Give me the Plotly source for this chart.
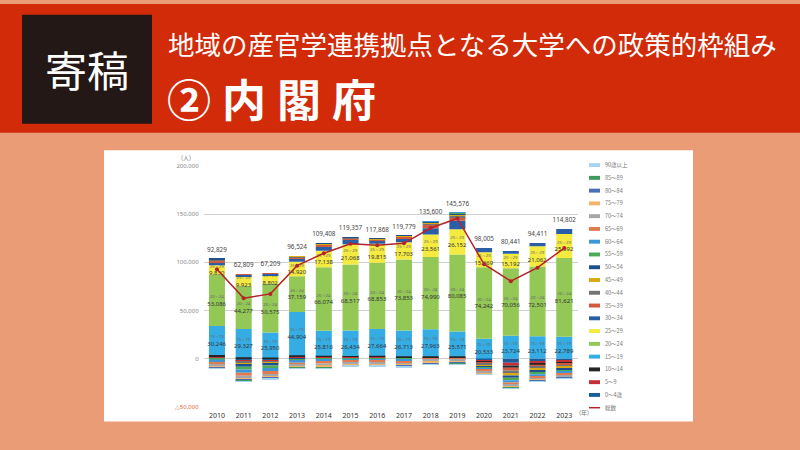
import plotly.graph_objects as go

W, H = 800, 450

years = ["2010", "2011", "2012", "2013", "2014", "2015", "2016",
         "2017", "2018", "2019", "2020", "2021", "2022", "2023"]

# 総数 (net total)
totals = [92829, 62809, 67209, 96524, 109408, 119357, 117868,
          119779, 135600, 145576, 98005, 80441, 94411, 114802]

# age-group values (persons), 2010..2023
age_0_4 = [1200, -2400, -2000, 1200, 1000, 900, 1000, 800, 800, 800, -1800, -4200, -2800, -2200]
age_5_9 = [1000, -1200, -1000, 900, 800, 700, 800, 700, 700, 700, -1300, -3000, -2000, -1600]
age_10_14 = [1500, 1500, 1200, 1400, 1200, 1100, 1200, 1000, 1000, 1000, -900, -2200, -1500, -1200]
age_15_19 = [30246, 29327, 25950, 44904, 25816, 26434, 27664, 26713, 27963, 25571, 20533, 23724, 23112, 22789]
age_20_24 = [53086, 44277, 50575, 37159, 66074, 68517, 68853, 73853, 74990, 80085, 74242, 70056, 72501, 81621]
age_25_29 = [9830, 9923, 8802, 14920, 17138, 21068, 19815, 17703, 23561, 26152, 15669, 15192, 21062, 25092]
age_30_34 = [3200, 1800, 1400, 3000, 4500, 4500, 3000, 4000, 6500, 9000, 4400, 2700, 3400, 5100]
age_35_39 = [1500, 900, 600, 1500, 1500, 1500, 1100, 1500, 3200, 3500, -1500, -3000, -2200, -1800]
age_40_44 = [900, -1500, -1200, 800, 800, 800, 600, 800, 1800, 2000, -1400, -2500, -1900, -1700]
age_45_49 = [700, -1500, -1300, 700, 500, 400, 300, 300, 1000, 1200, -1000, -2600, -1900, -1700]
age_50_54 = [500, -2000, -1800, -700, 300, 300, 100, 200, 700, 800, -1100, -2500, -2000, -1800]
age_55_59 = [-1000, -2800, -2600, -1500, -1400, -1000, -1000, -1100, 400, 400, -1300, -2500, -2000, -1900]
age_60_64 = [-2500, -3200, -3000, -2000, -1800, -1500, -1500, -1700, 200, 200, -1500, -2300, -2100, -2000]
age_65_69 = [-2600, -3200, -3000, -2200, -2000, -1800, -1800, -2000, -1500, -1300, -1800, -2100, -1900, -1800]
age_70_74 = [-2000, -2600, -2500, -1800, -2200, -1500, -1500, -1700, -1800, -1700, -1500, -1800, -1600, -1500]
age_75_79 = [-1400, -1800, -1700, -1000, -1500, -1000, -1000, -1200, -1500, -1400, -1000, -1200, -1100, -1000]
age_80_84 = [-800, -1000, -800, -500, -800, -600, -600, -700, -900, -900, -600, -700, -600, -600]
age_85_89 = [-400, -500, -300, -200, -400, -300, -300, -400, -500, -500, -300, -400, -300, -300]
age_90_up = [-100, -200, -100, -100, -100, -100, -100, -100, -200, -200, -100, -100, -100, -100]

age_labels = ["0～4歳", "5～9", "10～14", "15～19", "20～24", "25～29", "30～34",
              "35～39", "40～44", "45～49", "50～54", "55～59", "60～64", "65～69",
              "70～74", "75～79", "80～84", "85～89", "90歳以上"]
age_series = [age_0_4, age_5_9, age_10_14, age_15_19, age_20_24, age_25_29, age_30_34,
              age_35_39, age_40_44, age_45_49, age_50_54, age_55_59, age_60_64, age_65_69,
              age_70_74, age_75_79, age_80_84, age_85_89, age_90_up]
age_colors = ["#1B5C9B", "#C53038", "#262626", "#35ADE4", "#93C756", "#F4EA40", "#2A5FA8",
              "#D25A3C", "#737373", "#D6AA10", "#1F4F8F", "#4DAA57", "#3C96D8", "#E27A50",
              "#A6A6A6", "#F2B46A", "#4A6FB5", "#3E9B5C", "#A8D4F0"]
labelled = {"15～19", "20～24", "25～29"}
total_label = "総数"
line_color = "#B5232B"

y_tickvals = [-50000, 0, 50000, 100000, 150000, 200000]
y_ticktext = ["<span style='color:#E2673A'>△50,000</span>", "0", "50,000",
              "100,000", "150,000", "200,000"]

JP = "Noto Sans CJK JP"
NUM = "Noto Sans, sans-serif"


def px(x):
    return x / W


def py(y):
    return 1 - y / H


fig = go.Figure()

for name, vals, col in zip(age_labels, age_series, age_colors):
    kw = {}
    if name in labelled:
        kw = dict(
            text=[f"<span style='font-size:4.3px;color:#666'>{name}</span><br>{v:,}" for v in vals],
            textposition="inside", insidetextanchor="middle", textangle=0,
            constraintext="none", textfont=dict(size=6, color="#333", family=NUM),
        )
    fig.add_trace(go.Bar(x=years, y=vals, name=name, marker=dict(color=col, line=dict(width=0)),
                         **kw))

pos_sums = [sum(max(s[i], 0) for s in age_series) for i in range(len(years))]
fig.add_trace(go.Scatter(x=years, y=pos_sums, mode="markers+text", text=[f"{t:,}" for t in totals],
                         textposition="top center", cliponaxis=False,
                         marker=dict(size=7, opacity=0),
                         textfont=dict(size=6.3, color="#444", family=NUM)))
fig.add_trace(go.Scatter(x=years, y=totals, mode="lines+markers", name=total_label,
                         line=dict(color=line_color, width=1.5),
                         marker=dict(color=line_color, size=4)))

shapes = []
# red header band
shapes.append(dict(type="rect", xref="paper", yref="paper", x0=0, x1=1, y0=py(131), y1=1,
                   fillcolor="#D12B09", line=dict(width=0), layer="below"))
# black box
shapes.append(dict(type="rect", xref="paper", yref="paper", x0=px(22), x1=px(152),
                   y0=py(122), y1=py(11), fillcolor="#231815", line=dict(width=0), layer="below"))
# white chart panel
shapes.append(dict(type="rect", xref="paper", yref="paper", x0=px(104), x1=px(693),
                   y0=py(425), y1=py(149), fillcolor="#FFFFFF", line=dict(width=0), layer="below"))


def ann(x, y, text, size, color, family, xanchor="center", yanchor="middle"):
    return dict(x=px(x), y=py(y), xref="paper", yref="paper", text=text, showarrow=False,
                xanchor=xanchor, yanchor=yanchor, font=dict(size=size, color=color, family=family))


annotations = [
    ann(87, 66, "寄稿", 42, "white", JP),
    ann(166, 40, "地域の産官学連携拠点となる大学への政策的枠組み", 26.5, "white", JP, xanchor="left"),
    ann(165, 96, "<b>②\u2005内\u2005閣\u2005府</b>", 44, "white", JP, xanchor="left"),
    ann(186, 156, "(人)", 6, "#777", JP),
    ann(577, 416, "(年)", 6, "#777", JP, xanchor="left"),
]

# custom legend (top: 90歳以上 ... bottom: 総数)
leg_names = list(reversed(age_labels)) + [total_label]
leg_colors = list(reversed(age_colors)) + [line_color]
for i, (nm, col) in enumerate(zip(leg_names, leg_colors)):
    yc = 164 + 13 * i
    if nm == total_label:
        shapes.append(dict(type="line", xref="paper", yref="paper", x0=px(589), x1=px(600),
                           y0=py(yc), y1=py(yc), line=dict(color=col, width=1.5)))
    else:
        shapes.append(dict(type="rect", xref="paper", yref="paper", x0=px(589), x1=px(600),
                           y0=py(yc + 2), y1=py(yc - 2), fillcolor=col, line=dict(width=0)))
    annotations.append(ann(603, yc, nm, 5.5, "#777", JP, xanchor="left"))

fig.update_layout(
    width=W, height=H, margin=dict(l=0, r=0, t=0, b=0),
    paper_bgcolor="#E99C76", plot_bgcolor="white",
    barmode="relative", bargap=0.4, showlegend=False,
    shapes=shapes, annotations=annotations,
    xaxis=dict(domain=[203.6 / W, 577.6 / W], type="category", categoryorder="array",
               categoryarray=years, range=[-0.5, 13.5], showgrid=False, showline=False,
               ticks="", tickfont=dict(size=7, color="#333", family=NUM),
               ticklabelstandoff=3, fixedrange=True),
    yaxis=dict(domain=[py(410), py(165)], range=[-50000, 200000], tickvals=y_tickvals,
               ticktext=y_ticktext, showgrid=True, gridcolor="#D0D0D0", gridwidth=1,
               zeroline=True, zerolinecolor="#D0D0D0", zerolinewidth=1, ticks="",
               tickfont=dict(size=6, color="#888", family=NUM),
               ticklabelstandoff=4, fixedrange=True),
)

fig.write_html(
    "out.html",
    config={"displayModeBar": False},
    post_script="document.body.style.margin='0';document.body.style.padding='0';"
                "document.body.style.background='#E99C76';",
)
